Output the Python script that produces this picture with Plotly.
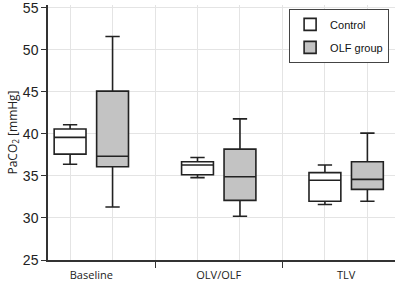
import plotly.graph_objects as go

categories = ["Baseline", "OLV/OLF", "TLV"]
groups = ["Control", "OLF group"]

control_lower = [36.4, 34.8, 31.6]
control_q1 = [37.6, 35.15, 32.0]
control_median = [39.6, 36.3, 34.5]
control_q3 = [40.6, 36.7, 35.4]
control_upper = [41.1, 37.2, 36.3]

olf_lower = [31.3, 30.2, 32.0]
olf_q1 = [36.1, 32.1, 33.4]
olf_median = [37.35, 34.9, 34.6]
olf_q3 = [45.1, 38.2, 36.7]
olf_upper = [51.6, 41.8, 40.1]

pos_ctrl = [i * 3 for i in range(len(categories))]
pos_olf = [i * 3 + 1 for i in range(len(categories))]
centers = [i * 3 + 0.5 for i in range(len(categories))]
separators = [i * 3 + 2 for i in range(len(categories) - 1)]
grid_pos = list(range(3 * len(categories) - 1))

line_col = "#222222"
xr = [-0.52, 7.65]

fig = go.Figure()
fig.add_trace(go.Box(
    name=groups[0], x=pos_ctrl, q1=control_q1, median=control_median, q3=control_q3,
    lowerfence=control_lower, upperfence=control_upper,
    width=0.75, whiskerwidth=0.45, fillcolor="white",
    line=dict(color=line_col, width=1.6), boxpoints=False,
    legendgroup="a", xaxis="x", yaxis="y"))
fig.add_trace(go.Box(
    name=groups[1], x=pos_olf, q1=olf_q1, median=olf_median, q3=olf_q3,
    lowerfence=olf_lower, upperfence=olf_upper,
    width=0.75, whiskerwidth=0.45, fillcolor="#c3c3c3",
    line=dict(color=line_col, width=1.6), boxpoints=False,
    legendgroup="b", xaxis="x2", yaxis="y"))

fig.update_layout(
    width=398, height=285,
    margin=dict(l=48, r=3, t=5, b=25),
    paper_bgcolor="white", plot_bgcolor="white",
    showlegend=True,
    legend=dict(x=0.983, xanchor="right", y=0.985, yanchor="top",
                bgcolor="white", bordercolor="#444444", borderwidth=1,
                font=dict(family="Arial", size=11, color="#111111"),
                itemwidth=30, tracegroupgap=4),
    xaxis=dict(range=xr, tickmode="array", tickvals=centers, ticktext=categories,
               ticks="", showgrid=False, zeroline=False, automargin=False,
               showline=True, linecolor="#333333", linewidth=1.5,
               ticklabelstandoff=4,
               tickfont=dict(family="Open Sans", size=11, color="#222222"),
               minor=dict(tickmode="array", tickvals=separators, ticks="outside",
                          ticklen=6, tickwidth=1.2, tickcolor="#333333",
                          showgrid=False)),
    xaxis2=dict(range=xr, overlaying="x", side="bottom", anchor="y",
                tickmode="array", tickvals=grid_pos, showticklabels=False,
                ticks="", showgrid=True, gridcolor="#e4e4e4", gridwidth=1,
                zeroline=False, showline=False, automargin=False),
    yaxis=dict(range=[25, 55.35], tickmode="linear", tick0=25, dtick=5,
               showgrid=True, gridcolor="#e4e4e4", zeroline=False, automargin=False,
               showline=True, linecolor="#333333", linewidth=1.5,
               ticks="outside", ticklen=5, tickcolor="#333333",
               ticklabeloverflow="allow",
               tickfont=dict(family="Arial", size=14, color="#222222"),
               title=dict(text="PaCO<sub>2</sub> [mmHg]", standoff=3,
                          font=dict(family="Open Sans", size=12, color="#222222"))),
)

fig.write_html("out.html", config={"displayModeBar": False},
               post_script="document.body.style.margin='0';")
